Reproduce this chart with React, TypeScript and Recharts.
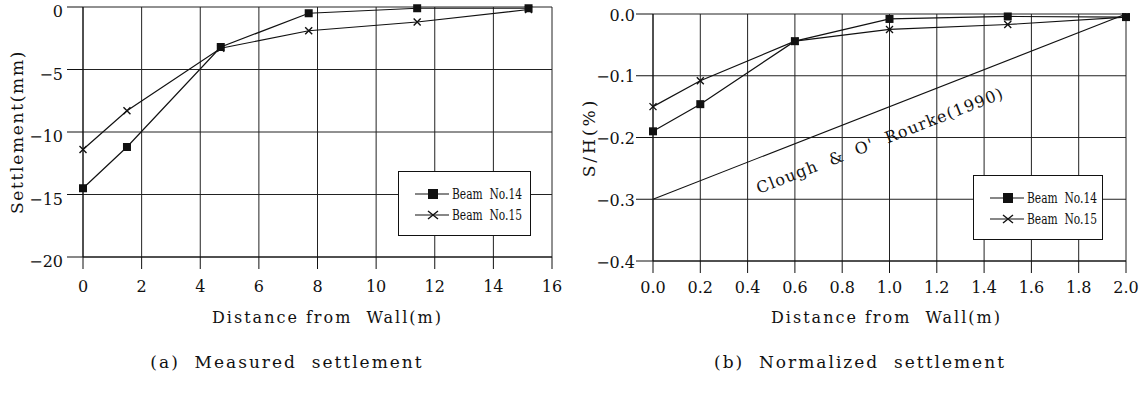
import React from 'react';
import {
  LineChart,
  Line,
  XAxis,
  YAxis,
  CartesianGrid,
  Legend,
  ReferenceDot,
} from 'recharts';

// (a) measured settlement behind the wall
const distanceM = [0, 1.5, 4.7, 7.7, 11.4, 15.2];
const beam14Settlement = [-14.5, -11.2, -3.2, -0.5, -0.1, -0.1];
const beam15Settlement = [-11.4, -8.3, -3.3, -1.9, -1.2, -0.2];
const measuredXTicks = [0, 2, 4, 6, 8, 10, 12, 14, 16];
const measuredYTicks = [0, -5, -10, -15, -20];

// (b) settlement normalized by excavation depth
const distanceNorm = [0, 0.2, 0.6, 1.0, 1.5, 2.0];
const beam14Norm = [-0.19, -0.146, -0.044, -0.008, -0.004, -0.005];
const beam15Norm = [-0.15, -0.108, -0.044, -0.025, -0.017, -0.005];
const normXTicks = [0, 0.2, 0.4, 0.6, 0.8, 1.0, 1.2, 1.4, 1.6, 1.8, 2.0];
const normYTicks = [0, -0.1, -0.2, -0.3, -0.4];

// Clough & O'Rourke (1990) envelope
const cloughDistance = [0, 2.0];
const cloughSettlement = [-0.3, 0];
const cloughLabelAt = { x: 0.96, y: -0.205 };

const SERIF = '"DejaVu Serif", serif';
const INK = '#111';

const measuredRows = distanceM.map((d, i) => ({
  distance: d,
  beam14: beam14Settlement[i],
  beam15: beam15Settlement[i],
}));
const normRows = distanceNorm.map((d, i) => ({
  distance: d,
  beam14: beam14Norm[i],
  beam15: beam15Norm[i],
}));
const cloughRows = cloughDistance.map((d, i) => ({ distance: d, clough: cloughSettlement[i] }));

const fmt = (v: number, digits: number) => {
  const s = Math.abs(v).toFixed(digits);
  return v < 0 ? `\u2212${s}` : s;
};

const SquareDot = (props: any) => {
  const { cx, cy, index } = props;
  if (cx == null || cy == null) return null;
  return <rect key={`sq-${index}`} x={cx - 4} y={cy - 4} width={8} height={8} fill={INK} />;
};

const CrossDot = (props: any) => {
  const { cx, cy, index } = props;
  if (cx == null || cy == null) return null;
  const r = 3.5;
  return (
    <path
      key={`x-${index}`}
      d={`M${cx - r},${cy - r}L${cx + r},${cy + r}M${cx - r},${cy + r}L${cx + r},${cy - r}`}
      stroke={INK}
      strokeWidth={1.4}
    />
  );
};

const xTick = (digits: number, dy: number) => (props: any) => {
  const { x, y, payload } = props;
  return (
    <text x={x} y={y} dy={dy} textAnchor="middle" fontFamily={SERIF} fontSize={16} fill={INK}>
      {fmt(payload.value, digits)}
    </text>
  );
};

const yTick = (digits: number, dy: number) => (props: any) => {
  const { x, y, payload } = props;
  return (
    <text x={x} y={y} dy={dy} textAnchor="end" fontFamily={SERIF} fontSize={16} fill={INK}>
      {fmt(payload.value, digits)}
    </text>
  );
};

const xTitle = (dx: number, dy: number) => (props: any) => {
  const { viewBox } = props;
  return (
    <text
      x={viewBox.x + viewBox.width / 2 + dx}
      y={viewBox.y + viewBox.height + dy}
      textAnchor="middle"
      fontFamily={SERIF}
      fontSize={16}
      letterSpacing={2}
      fill={INK}
      style={{ whiteSpace: 'pre' }}
    >
      {'Distance from  Wall(m)'}
    </text>
  );
};

const yTitle = (text: string, cx: number, spacing: number) => (props: any) => {
  const { viewBox } = props;
  const cy = viewBox.y + viewBox.height / 2;
  return (
    <text
      x={cx}
      y={cy}
      transform={`rotate(-90 ${cx} ${cy})`}
      textAnchor="middle"
      dominantBaseline="central"
      fontFamily={SERIF}
      fontSize={17}
      letterSpacing={spacing}
      fill={INK}
    >
      {text}
    </text>
  );
};

const BeamLegend = (props: any) => {
  const entries = (props.payload || []).filter((e: any) => e.dataKey === 'beam14' || e.dataKey === 'beam15');
  return (
    <div
      style={{
        width: '100%',
        height: '100%',
        boxSizing: 'border-box',
        border: `1.5px solid ${INK}`,
        background: '#fff',
      }}
    >
      <svg width="100%" height="100%" style={{ display: 'block', overflow: 'visible' }}>
        {entries.map((e: any, i: number) => {
          const y = 22 + i * 21;
          return (
            <g key={e.dataKey}>
              <line x1={16} x2={50} y1={y} y2={y} stroke={INK} strokeWidth={1.2} />
              {e.dataKey === 'beam14' ? (
                <rect x={29} y={y - 5} width={10} height={10} fill={INK} />
              ) : (
                <path d={`M${29},${y - 4}L${39},${y + 4}M${29},${y + 4}L${39},${y - 4}`} stroke={INK} strokeWidth={1.4} />
              )}
              <text
                x={53}
                y={y + 5}
                fontFamily={SERIF}
                fontSize={14}
                fill={INK}
                textLength={70}
                lengthAdjust="spacingAndGlyphs"
                style={{ whiteSpace: 'pre' }}
              >
                {e.value.replace(' ', '  ')}
              </text>
            </g>
          );
        })}
      </svg>
    </div>
  );
};

const cloughLabel = (props: any) => {
  const { viewBox } = props;
  const cx = viewBox.x + (viewBox.width || 0) / 2;
  const cy = viewBox.y + (viewBox.height || 0) / 2;
  return (
    <text
      x={cx}
      y={cy}
      transform={`rotate(-21.4 ${cx} ${cy})`}
      textAnchor="middle"
      dominantBaseline="central"
      fontFamily={SERIF}
      fontSize={16}
      letterSpacing={1.2}
      fill={INK}
      style={{ whiteSpace: 'pre' }}
    >
      {"Clough  &  O'  Rourke(1990)"}
    </text>
  );
};

const captionStyle: React.CSSProperties = {
  position: 'absolute',
  top: 351,
  width: 400,
  textAlign: 'center',
  fontFamily: SERIF,
  fontSize: 17,
  lineHeight: '22px',
  letterSpacing: 2,
  color: INK,
  whiteSpace: 'pre',
};

export default function App() {
  return (
    <div style={{ position: 'absolute', left: 0, top: 0, width: 1142, height: 397, background: '#fff' }}>
      <div style={{ position: 'absolute', left: 0, top: 0 }}>
        <LineChart width={570} height={340} data={measuredRows} margin={{ top: 7, right: 18, bottom: 53, left: 23 }}>
          <CartesianGrid stroke="#222" strokeWidth={1} />
          <XAxis
            type="number"
            dataKey="distance"
            domain={[0, 16]}
            ticks={measuredXTicks}
            interval={0}
            height={30}
            axisLine={{ stroke: INK }}
            tickLine={{ stroke: INK }}
            tickSize={12}
            tickMargin={4}
            tick={xTick(0, 19)}
            label={{ content: xTitle(10, 36) }}
          />
          <YAxis
            type="number"
            domain={[-20, 0]}
            ticks={measuredYTicks}
            interval={0}
            width={60}
            axisLine={{ stroke: INK }}
            tickLine={{ stroke: INK }}
            tickSize={16}
            tickMargin={4}
            tick={yTick(0, 10)}
            label={{ content: yTitle('Settlement(mm)', 17, 1.7) }}
          />
          <Legend
            layout="horizontal"
            verticalAlign="middle"
            align="center"
            content={BeamLegend}
            wrapperStyle={{ left: 398, top: 171, width: 133, height: 65 }}
          />
          <Line
            dataKey="beam14"
            name="Beam No.14"
            stroke={INK}
            strokeWidth={1.2}
            dot={SquareDot}
            isAnimationActive={false}
          />
          <Line
            dataKey="beam15"
            name="Beam No.15"
            stroke={INK}
            strokeWidth={1.2}
            dot={CrossDot}
            isAnimationActive={false}
          />
        </LineChart>
      </div>

      <div style={{ position: 'absolute', left: 570, top: 0 }}>
        <LineChart width={572} height={340} data={normRows} margin={{ top: 14, right: 16, bottom: 49, left: 23 }}>
          <CartesianGrid stroke="#222" strokeWidth={1} />
          <XAxis
            type="number"
            dataKey="distance"
            domain={[0, 2]}
            ticks={normXTicks}
            interval={0}
            height={30}
            axisLine={{ stroke: INK }}
            tickLine={{ stroke: INK }}
            tickSize={12}
            tickMargin={4}
            tick={xTick(1, 16)}
            label={{ content: xTitle(-3, 32) }}
          />
          <YAxis
            type="number"
            domain={[-0.4, 0]}
            ticks={normYTicks}
            interval={0}
            width={60}
            axisLine={{ stroke: INK }}
            tickLine={{ stroke: INK }}
            tickSize={17}
            tickMargin={1}
            tick={yTick(1, 6.5)}
            label={{ content: yTitle('S/H(%)', 19, 3) }}
          />
          <Legend
            layout="horizontal"
            verticalAlign="middle"
            align="center"
            content={BeamLegend}
            wrapperStyle={{ left: 403, top: 175, width: 130, height: 65 }}
          />
          <Line
            data={cloughRows}
            dataKey="clough"
            name="Clough & O'Rourke(1990)"
            legendType="none"
            stroke={INK}
            strokeWidth={1.1}
            dot={false}
            isAnimationActive={false}
          />
          <Line
            dataKey="beam14"
            name="Beam No.14"
            stroke={INK}
            strokeWidth={1.2}
            dot={SquareDot}
            isAnimationActive={false}
          />
          <Line
            dataKey="beam15"
            name="Beam No.15"
            stroke={INK}
            strokeWidth={1.2}
            dot={CrossDot}
            isAnimationActive={false}
          />
          <ReferenceDot
            x={cloughLabelAt.x}
            y={cloughLabelAt.y}
            r={0}
            fill="none"
            stroke="none"
            label={{ content: cloughLabel }}
          />
        </LineChart>
      </div>

      <div style={{ ...captionStyle, left: 287 - 200 }}>{'(a)  Measured  settlement'}</div>
      <div style={{ ...captionStyle, left: 860 - 200 }}>{'(b)  Normalized  settlement'}</div>
    </div>
  );
}
